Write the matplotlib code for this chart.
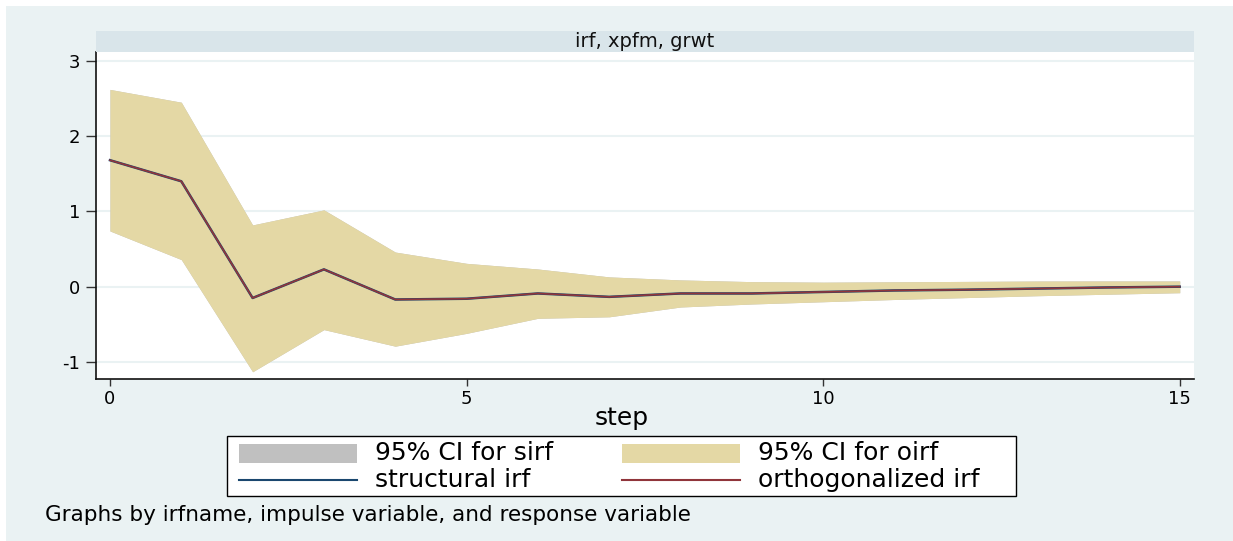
import matplotlib
matplotlib.use("Agg")
import matplotlib.pyplot as plt
from matplotlib.patches import Rectangle
from matplotlib.lines import Line2D

plt.rcParams['font.family'] = ['DejaVu Sans']

# ---- data ----
steps = list(range(16))
oirf = [1.68, 1.40, -0.15, 0.23, -0.17, -0.16, -0.09, -0.135, -0.09, -0.09,
        -0.07, -0.05, -0.04, -0.025, -0.01, 0.0]
oirf_hi = [2.62, 2.45, 0.82, 1.02, 0.46, 0.31, 0.235, 0.13, 0.09, 0.067,
           0.06, 0.065, 0.07, 0.075, 0.076, 0.076]
oirf_lo = [0.74, 0.36, -1.13, -0.57, -0.79, -0.62, -0.42, -0.40, -0.27, -0.23,
           -0.20, -0.17, -0.145, -0.12, -0.10, -0.08]
sirf = list(oirf)
sirf_hi = list(oirf_hi)
sirf_lo = list(oirf_lo)

xticks = [0, 5, 10, 15]
yticks = [-1, 0, 1, 2, 3]
panel_title = "irf, xpfm, grwt"
xlabel = "step"
note = "Graphs by irfname, impulse variable, and response variable"
legend_labels = ["95% CI for sirf", "95% CI for oirf", "structural irf", "orthogonalized irf"]

# ---- colors ----
bg = "#eaf2f3"
strip = "#d9e5ea"
band_o = "#e4d8a5"
band_s = "#c0c0c0"
navy = "#1a476f"
maroon = "#90353b"

W, H = 1233, 541
fig = plt.figure(figsize=(W / 100, H / 100), dpi=100)
fig.patch.set_facecolor("white")
fig.patches.append(Rectangle((6 / W, 0), 1 - 6 / W, 1 - 6 / H, transform=fig.transFigure,
                             facecolor=bg, edgecolor="none", zorder=-10))

ax_l, ax_r = 96 / W, 1194 / W
ax_b, ax_t = 1 - 379 / H, 1 - 52 / H
ax = fig.add_axes([ax_l, ax_b, ax_r - ax_l, ax_t - ax_b])
ax.set_facecolor("white")

# strip
fig.patches.append(Rectangle((ax_l, ax_t), ax_r - ax_l, 21 / H, transform=fig.transFigure,
                             facecolor=strip, edgecolor="none", zorder=1))
fig.text((ax_l + ax_r) / 2, ax_t + 10.5 / H, panel_title, ha="center", va="center",
         fontsize=14, color="#111111")

ax.fill_between(steps, sirf_lo, sirf_hi, color=band_s, lw=0, zorder=2)
ax.fill_between(steps, oirf_lo, oirf_hi, color=band_o, lw=0, zorder=3)
ax.plot(steps, sirf, color=navy, lw=1.8, zorder=4)
ax.plot(steps, oirf, color=maroon, lw=1.2, zorder=5)

ax.set_xlim(-0.196, 15.2)
ax.set_ylim(-1.226, 3.117)
ax.set_xticks(xticks)
ax.set_yticks(yticks)
ax.set_xticklabels([str(t) for t in xticks], fontsize=13)
ax.set_yticklabels([str(t) for t in yticks], fontsize=13)
ax.tick_params(axis="y", length=7.5, width=1, color="#333333", pad=4)
ax.tick_params(axis="x", length=5, width=1, color="#333333", pad=3)
ax.grid(axis="y", color=bg, lw=1.5, zorder=0)
ax.set_axisbelow(True)
for s in ["top", "right"]:
    ax.spines[s].set_visible(False)
for s in ["left", "bottom"]:
    ax.spines[s].set_color("#111111")
    ax.spines[s].set_linewidth(1.2)

fig.text(622 / W, 1 - 418 / H, xlabel, ha="center", va="center", fontsize=18)

# ---- legend (drawn manually in figure pixels) ----
def fx(px):
    return px / W

def fy(py):
    return 1 - py / H

fig.patches.append(Rectangle((fx(227), fy(496)), fx(1016) - fx(227), fy(436) - fy(496),
                             transform=fig.transFigure, facecolor="white",
                             edgecolor="black", lw=1.0, zorder=5))
sw_x = [239, 622]
tx_x = [375, 758]
row_y = [453, 480]
swatch_colors = [band_s, band_o]
line_colors = [navy, maroon]
for i in range(2):
    fig.patches.append(Rectangle((fx(sw_x[i]), fy(463)), fx(118), 19 / H,
                                 transform=fig.transFigure, facecolor=swatch_colors[i],
                                 edgecolor="none", zorder=6))
    fig.lines.append(Line2D([fx(sw_x[i]), fx(sw_x[i] + 118)], [fy(row_y[1]), fy(row_y[1])],
                            transform=fig.transFigure, color=line_colors[i], lw=1.5, zorder=6))
    fig.text(fx(tx_x[i]), fy(row_y[0]), legend_labels[i], ha="left", va="center",
             fontsize=18, zorder=7)
    fig.text(fx(tx_x[i]), fy(row_y[1]), legend_labels[2 + i], ha="left", va="center",
             fontsize=18, zorder=7)

fig.text(45 / W, 1 - 515 / H, note, ha="left", va="center", fontsize=15.5)

fig.savefig("out.png", dpi=100, facecolor=fig.get_facecolor())
